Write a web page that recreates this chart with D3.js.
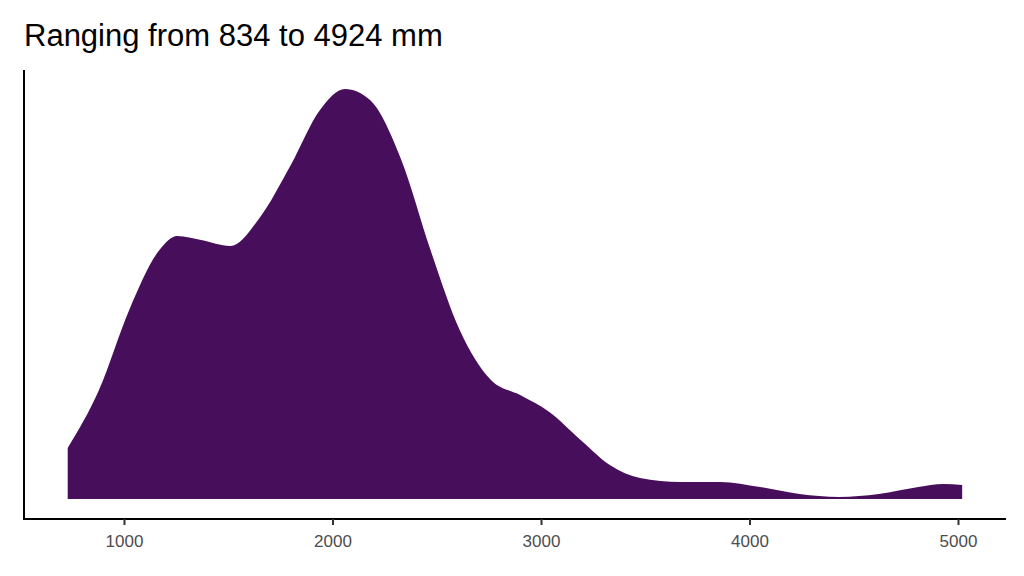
<!DOCTYPE html>
<html><head><meta charset="utf-8">
<script src="https://d3js.org/d3.v7.min.js"></script>
<style>body{margin:0;background:#fff}</style></head>
<body><svg id="chart" width="1024" height="576"></svg>
<script>
// rainfall values (mm) and estimated density heights (relative)
const rainfall = [730,880,1025,1170,1255,1370,1510,1650,1800,1940,2060,2180,2330,2470,2610,2760,2900,3040,3190,3330,3475,3670,3860,4050,4240,4430,4620,4810,4930,5020];
const density  = [51,109,189,249,263,259,253,281,334,389,410,399,339,249,169,119,104,87,59,34,21,17,17,12,5,2,5,12,15,14];
const xTicks = [1000,2000,3000,4000,5000];
const title = "Ranging from 834 to 4924 mm";

const svg = d3.select("#chart");
const x = d3.scaleLinear().domain([0,1000]).range([-84.5,124]);
const y = d3.scaleLinear().domain([0,430]).range([499,69]);
const pts = rainfall.map((r,i)=>({r, d:density[i]}));

svg.append("path").datum(pts)
  .attr("fill","#470E5B")
  .attr("d", d3.area().x(p=>x(p.r)).y0(y(0)).y1(p=>y(p.d)).curve(d3.curveMonotoneX));

const ax = svg.append("g").attr("transform","translate(0,519)")
  .call(d3.axisBottom(x).tickValues(xTicks).tickSize(6).tickSizeOuter(0).tickFormat(d3.format("d")));
ax.select(".domain").attr("d","M24,0H1006").attr("stroke","#000").attr("stroke-width",2);
ax.selectAll(".tick line").attr("stroke","#333").attr("stroke-width",2);
ax.selectAll("text").attr("font-family","Liberation Sans, Arial, sans-serif").attr("font-size",17).attr("fill","#4d4d4d").attr("dy","1.1em");

svg.append("line").attr("x1",24).attr("x2",24).attr("y1",70).attr("y2",520).attr("stroke","#000").attr("stroke-width",2);

svg.append("text").attr("x",24).attr("y",46).text(title)
  .attr("font-family","Liberation Sans, Arial, sans-serif").attr("font-size",31).attr("fill","#000");
</script></body></html>
